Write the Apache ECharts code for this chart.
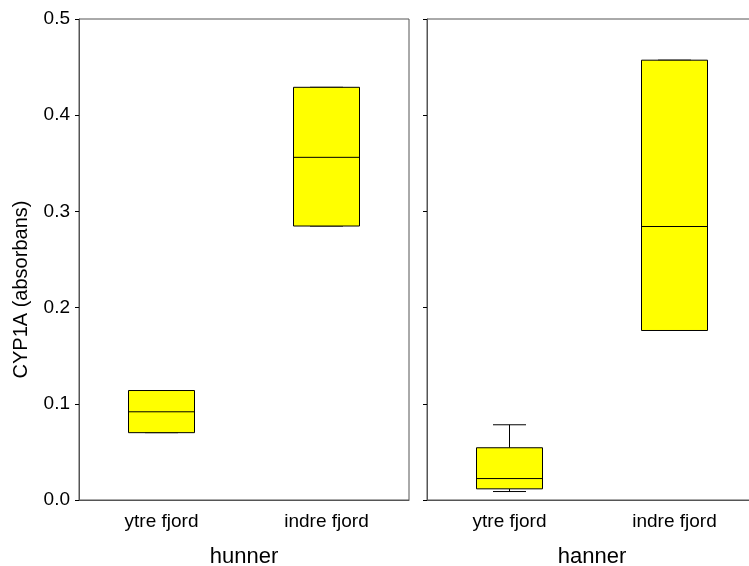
<!DOCTYPE html>
<html>
<head>
<meta charset="utf-8">
<script src="https://cdn.jsdelivr.net/npm/echarts@6/dist/echarts.min.js"></script>
<style>
html,body{margin:0;padding:0;background:#fff;overflow:hidden;}
#chart{width:749px;height:566px;}
</style>
</head>
<body>
<div id="chart"></div>
<script>
// Data
const categories = ['ytre fjord', 'indre fjord'];
const panelNames = ['hunner', 'hanner'];
// [min, Q1, median, Q3, max]
const hunnerBoxes = [
  [0.070, 0.070, 0.0917, 0.1138, 0.1138],
  [0.2848, 0.2848, 0.3562, 0.429, 0.429]
];
const hannerBoxes = [
  [0.0088, 0.0116, 0.0223, 0.0543, 0.0782],
  [0.1762, 0.1762, 0.2843, 0.4572, 0.4572]
];
const yTicks = [0.0, 0.1, 0.2, 0.3, 0.4, 0.5];

const FONT = 'Liberation Sans, Arial, sans-serif';
const AXIS_COLOR = '#555';

function toRows(boxes) {
  return boxes.map((b, i) => [i].concat(b));
}

function renderBox(params, api) {
  const xi = api.value(0);
  const mn = api.coord([xi, api.value(1)]);
  const q1 = api.coord([xi, api.value(2)]);
  const md = api.coord([xi, api.value(3)]);
  const q3 = api.coord([xi, api.value(4)]);
  const mx = api.coord([xi, api.value(5)]);
  const band = api.size([1, 0])[0];
  const bw = band * 0.4;
  const cw = bw * 0.5;
  const cx = q1[0];
  const lineStyle = { stroke: '#000', lineWidth: 1 };
  return {
    type: 'group',
    children: [
      { type: 'line', shape: { x1: cx, y1: q3[1], x2: cx, y2: mx[1] }, style: lineStyle },
      { type: 'line', shape: { x1: cx, y1: q1[1], x2: cx, y2: mn[1] }, style: lineStyle },
      { type: 'line', shape: { x1: cx - cw / 2, y1: mx[1], x2: cx + cw / 2, y2: mx[1] }, style: lineStyle },
      { type: 'line', shape: { x1: cx - cw / 2, y1: mn[1], x2: cx + cw / 2, y2: mn[1] }, style: lineStyle },
      { type: 'rect', shape: { x: cx - bw / 2, y: q3[1], width: bw, height: q1[1] - q3[1] },
        style: { fill: '#ffff00', stroke: '#000', lineWidth: 1 } },
      { type: 'line', shape: { x1: cx - bw / 2, y1: md[1], x2: cx + bw / 2, y2: md[1] }, style: lineStyle }
    ]
  };
}

function makeYAxis(idx, showLabels) {
  return {
    type: 'value', gridIndex: idx, min: yTicks[0], max: yTicks[yTicks.length - 1], interval: 0.1,
    name: showLabels ? 'CYP1A (absorbans)' : '',
    nameLocation: 'middle', nameRotate: 90, nameGap: 48,
    nameTextStyle: { fontFamily: FONT, fontSize: 20, color: '#000', padding: [0, 60, 0, 0] },
    axisLine: { show: true, lineStyle: { color: AXIS_COLOR, width: 1 } },
    axisTick: { show: true, inside: false, length: 4, lineStyle: { color: '#000' } },
    axisLabel: { show: showLabels, margin: 9, fontFamily: FONT, fontSize: 19, color: '#000',
      formatter: v => v.toFixed(1) },
    splitLine: { show: false }
  };
}

function makeXAxis(idx) {
  return {
    type: 'category', gridIndex: idx, data: categories, boundaryGap: true,
    name: panelNames[idx], nameLocation: 'middle', nameGap: 46,
    nameTextStyle: { fontFamily: FONT, fontSize: 22, color: '#000' },
    axisLine: { show: true, lineStyle: { color: AXIS_COLOR, width: 1 } },
    axisTick: { show: false },
    axisLabel: { margin: 12, fontFamily: FONT, fontSize: 19, color: '#000' },
    splitLine: { show: false }
  };
}

const chart = echarts.init(document.getElementById('chart'), null, { renderer: 'canvas' });
chart.setOption({
  animation: false,
  backgroundColor: '#fff',
  grid: [
    { left: 79, top: 19, width: 330, height: 481, show: true, borderColor: AXIS_COLOR, borderWidth: 1,
      backgroundColor: 'transparent', containLabel: false, outerBoundsMode: 'none' },
    { left: 427, top: 19, width: 330, height: 481, show: true, borderColor: AXIS_COLOR, borderWidth: 1,
      backgroundColor: 'transparent', containLabel: false, outerBoundsMode: 'none' }
  ],
  xAxis: [makeXAxis(0), makeXAxis(1)],
  yAxis: [makeYAxis(0, true), makeYAxis(1, false)],
  series: [
    { type: 'custom', xAxisIndex: 0, yAxisIndex: 0, data: toRows(hunnerBoxes),
      encode: { x: 0, y: [1, 2, 3, 4, 5] }, renderItem: renderBox },
    { type: 'custom', xAxisIndex: 1, yAxisIndex: 1, data: toRows(hannerBoxes),
      encode: { x: 0, y: [1, 2, 3, 4, 5] }, renderItem: renderBox }
  ]
});
</script>
</body>
</html>
